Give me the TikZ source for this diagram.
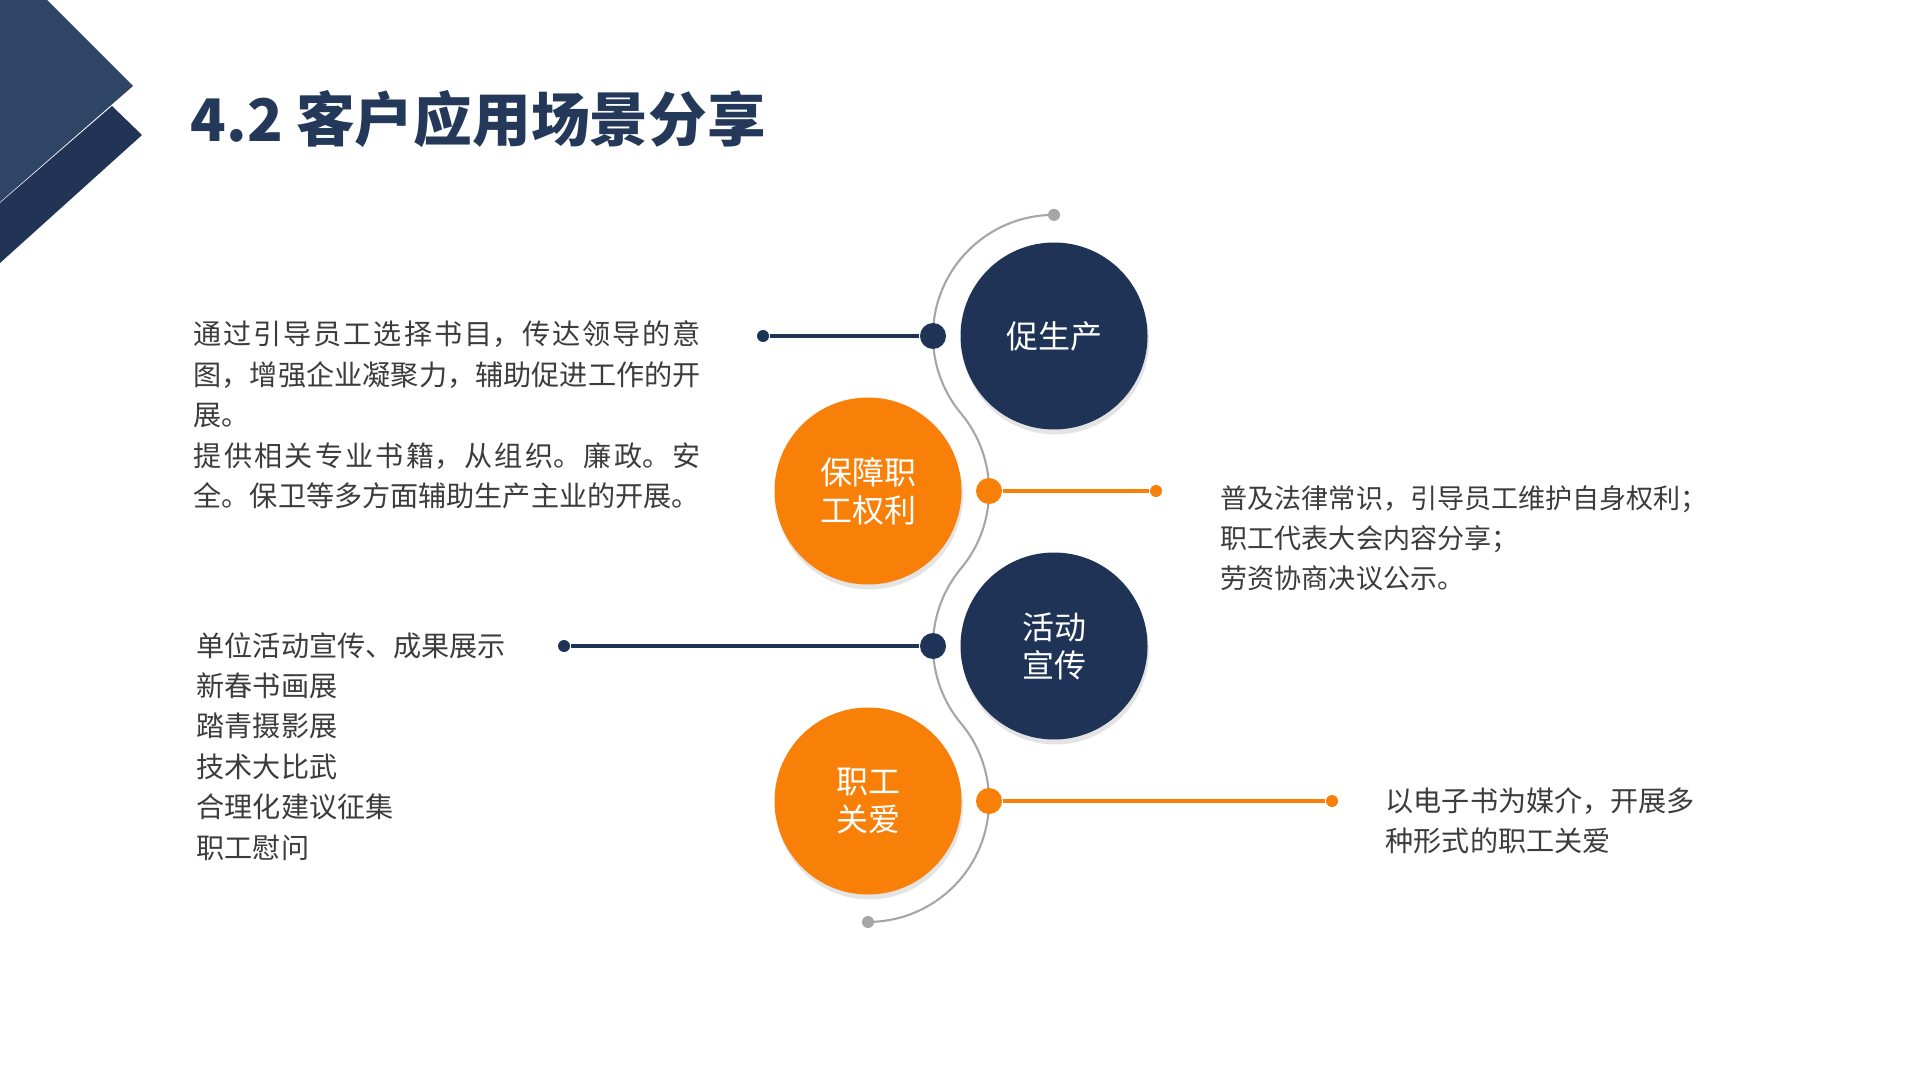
\documentclass[tikz,border=0pt]{standalone}
\usepackage{fontspec}
\setmainfont{Noto Sans CJK SC}
\usepackage{xcolor}
\usepackage{tikz}
\usetikzlibrary{positioning,shadows}
\XeTeXlinebreaklocale "zh"
\XeTeXlinebreakskip=0pt plus 1pt
\setlength{\parindent}{0pt}

\definecolor{navy}{RGB}{31,51,86}
\definecolor{tangerine}{RGB}{248,128,8}
\definecolor{titleblue}{RGB}{36,57,90}
\definecolor{cornerlight}{RGB}{47,69,102}
\definecolor{cornerdark}{RGB}{33,52,86}
\definecolor{wire}{RGB}{166,166,166}
\definecolor{bodytext}{RGB}{60,60,60}

\tikzset{
  bigball/.style={circle, minimum size=1.87cm, inner sep=0pt, fill=#1, text=white,
    align=center, font=\fontsize{9.1}{10.8}\selectfont,
    drop shadow={shadow xshift=0.4pt, shadow yshift=-1.4pt, fill=black!30, opacity=0.35}},
  knob/.style={circle, minimum size=0.26cm, inner sep=0pt, fill=#1},
  tipdot/.style={circle, minimum size=0.12cm, inner sep=0pt, fill=#1},
  link/.style={line width=1.15pt, draw=#1},
  blurb/.style={anchor=base west, inner sep=0pt, text=bodytext, align=left,
    font=\fontsize{8}{11.5}\selectfont},
}

\begin{document}
\begin{tikzpicture}
\useasboundingbox (0,0) rectangle (19.2,-10.8);
\fill[white] (0,0) rectangle (19.2,-10.8);
% corner chevrons
\fill[cornerlight] (0,0) -- (0.47,0) -- (1.33,-0.86) -- (0,-2.02) -- cycle;
\fill[cornerdark] (0,-2.03) -- (1.12,-1.06) -- (1.42,-1.35) -- (0,-2.63) -- cycle;
% title
\node[anchor=west, inner sep=0pt, text=titleblue, font=\fontsize{16.7}{20}\selectfont\bfseries] (title) at (1.90,-1.19) {4.2 客户应用场景分享};
% winding wire behind the balls
\draw[wire, line width=0.6pt] (10.54,-2.149)
  arc[start angle=90, end angle=219.8, radius=1.2106]
  arc[start angle=39.8, end angle=-39.8, radius=1.2106]
  arc[start angle=140.2, end angle=219.8, radius=1.2106]
  arc[start angle=39.8, end angle=-90, radius=1.2106];
\node[tipdot=wire] (wtop) at (10.54,-2.149) {};
\node[tipdot=wire] (wbot) at (8.68,-9.22) {};
% the four balls
\node[bigball=navy] (prod) at (10.54,-3.36) {促生产};
\node[bigball=tangerine] (rights) at (8.68,-4.91) {保障职\\工权利};
\node[bigball=navy] (promo) at (10.54,-6.46) {活动\\宣传};
\node[bigball=tangerine] (care) at (8.68,-8.01) {职工\\关爱};
% knobs on the wire and their leads
\node[knob=navy] (kprod) at (9.33,-3.36) {};
\node[tipdot=navy] (eprod) at (7.63,-3.36) {};
\draw[link=navy] (eprod) -- (kprod);
\node[knob=tangerine] (krights) at (9.89,-4.91) {};
\node[tipdot=tangerine] (erights) at (11.56,-4.91) {};
\draw[link=tangerine] (krights) -- (erights);
\node[knob=navy] (kpromo) at (9.33,-6.46) {};
\node[tipdot=navy] (epromo) at (5.64,-6.46) {};
\draw[link=navy] (epromo) -- (kpromo);
\node[knob=tangerine] (kcare) at (9.89,-8.01) {};
\node[tipdot=tangerine] (ecare) at (13.32,-8.01) {};
\draw[link=tangerine] (kcare) -- (ecare);
% texts
\node[blurb, text width=5.07cm, align=justify] (tprod) at (1.93,-3.45)
  {通过引导员工选择书目，传达领导的意图，增强企业凝聚力，辅助促进工作的开展。\par
   提供相关专业书籍，从组织。廉政。安全。保卫等多方面辅助生产主业的开展。};
\node[blurb, text width=5.5cm] (tpromo) at (1.96,-6.56)
  {单位活动宣传、成果展示\\新春书画展\\踏青摄影展\\技术大比武\\合理化建议征集\\职工慰问};
\node[blurb, text width=5.6cm, font=\fontsize{7.7}{11.4}\selectfont] (trights) at (12.20,-5.08)
  {普及法律常识，引导员工维护自身权利；\\职工代表大会内容分享；\\劳资协商决议公示。};
\node[blurb, text width=4.2cm] (tcare) at (13.85,-8.11)
  {以电子书为媒介，开展多\\种形式的职工关爱};
\end{tikzpicture}
\end{document}
